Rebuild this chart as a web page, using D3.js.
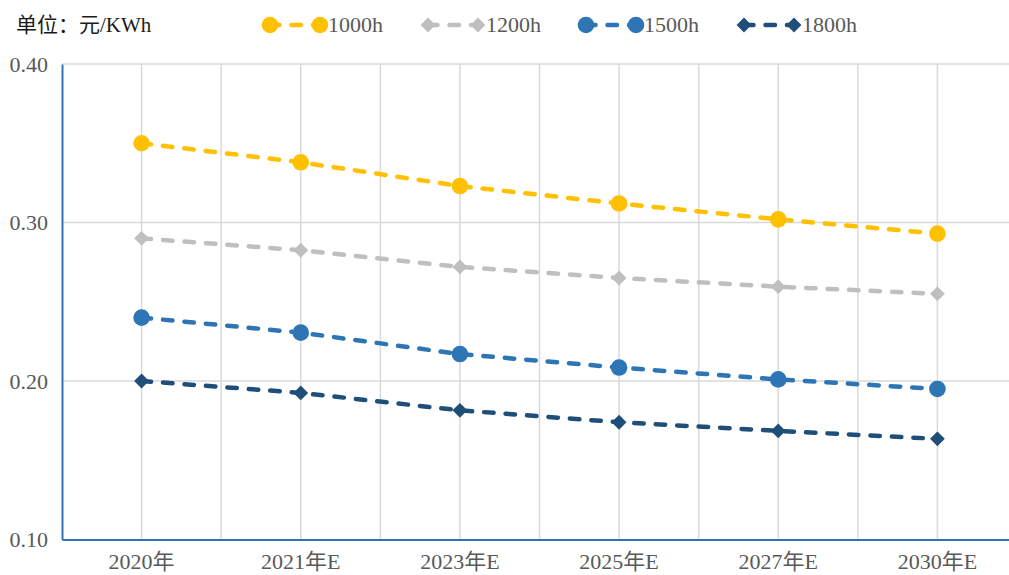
<!DOCTYPE html>
<html>
<head>
<meta charset="utf-8">
<script src="https://cdn.jsdelivr.net/npm/d3@7"></script>
<style>
  body { margin: 0; background: #fff; }
  text { font-family: "Liberation Serif", "Noto Sans CJK SC", serif; }
</style>
</head>
<body>
<script>
// Categories and series values (元/KWh)
const categories = ["2020年", "2021年E", "2023年E", "2025年E", "2027年E", "2030年E"];
const s1000 = [0.350, 0.338, 0.323, 0.312, 0.302, 0.293];
const s1200 = [0.290, 0.2825, 0.272, 0.265, 0.2595, 0.255];
const s1500 = [0.240, 0.2305, 0.217, 0.2085, 0.201, 0.195];
const s1800 = [0.200, 0.1925, 0.1815, 0.174, 0.1685, 0.1635];
const seriesNames = ["1000h", "1200h", "1500h", "1800h"];
const yTicks = [0.10, 0.20, 0.30, 0.40];

const series = [
    { name: seriesNames[0], values: s1000, color: "#FFC000", shape: "circle" },
    { name: seriesNames[1], values: s1200, color: "#BFBFBF", shape: "diamond" },
    { name: seriesNames[2], values: s1500, color: "#2E75B6", shape: "circle" },
    { name: seriesNames[3], values: s1800, color: "#1F4E79", shape: "diamond" }
];

const width = 1009, height = 575;
const margin = { left: 62, right: 1017, top: 64, bottom: 539.5 };

const svg = d3.select("body").append("svg")
    .attr("width", width)
    .attr("height", height);

// Scales
const x = d3.scaleBand().domain(categories).range([margin.left, margin.right]);
const y = d3.scaleLinear().domain([0.1, 0.4]).range([margin.bottom, margin.top]);

// Vertical gridlines at band edges and centres
const vLines = [];
categories.forEach(function(c, i) {
    if (i > 0) vLines.push(x(c));
    vLines.push(x(c) + x.bandwidth() / 2);
});
vLines.push(margin.right);
svg.append("g").selectAll("line")
    .data(vLines)
    .enter().append("line")
    .attr("x1", d => d).attr("x2", d => d)
    .attr("y1", margin.top).attr("y2", margin.bottom)
    .attr("stroke", "#D9D9D9")
    .attr("stroke-width", 1.5);

// Horizontal gridlines
svg.append("g").selectAll("line")
    .data(yTicks.slice(1))
    .enter().append("line")
    .attr("x1", margin.left).attr("x2", margin.right)
    .attr("y1", d => y(d)).attr("y2", d => y(d))
    .attr("stroke", "#D9D9D9")
    .attr("stroke-width", 1.5);

// Y axis
const yAxis = d3.axisLeft(y).tickValues(yTicks).tickFormat(d3.format(".2f")).tickSize(0).tickPadding(14);
const gy = svg.append("g")
    .attr("transform", "translate(" + margin.left + ",0)")
    .call(yAxis);
gy.select(".domain").attr("stroke", "#2E75B6").attr("stroke-width", 2);
gy.selectAll("text")
    .attr("font-size", 22)
    .attr("fill", "#595959")
    .attr("font-family", "Liberation Serif, serif");

// X axis
const xAxis = d3.axisBottom(x).tickSize(0).tickPadding(14);
const gx = svg.append("g")
    .attr("transform", "translate(0," + margin.bottom + ")")
    .call(xAxis);
gx.select(".domain").attr("stroke", "#2E75B6").attr("stroke-width", 2);
gx.selectAll("text")
    .attr("font-size", 22)
    .attr("fill", "#595959");

// Marker helper
const diamond = d3.symbol().type(d3.symbolSquare).size(110);
function drawMarker(g, s, cx, cy) {
    if (s.shape === "circle") {
        g.append("circle")
            .attr("cx", cx).attr("cy", cy).attr("r", 8.3)
            .attr("fill", s.color);
    } else {
        g.append("path")
            .attr("d", diamond())
            .attr("transform", "translate(" + cx + "," + cy + ") rotate(45)")
            .attr("fill", s.color);
    }
}

// Lines and markers
const line = d3.line()
    .x((d, i) => x(categories[i]) + x.bandwidth() / 2)
    .y(d => y(d));

series.forEach(function(s) {
    const g = svg.append("g");
    g.append("path")
        .datum(s.values)
        .attr("d", line)
        .attr("fill", "none")
        .attr("stroke", s.color)
        .attr("stroke-width", 4.5)
        .attr("stroke-linecap", "round")
        .attr("stroke-dasharray", "9.5,12");
    s.values.forEach(function(v, i) {
        drawMarker(g, s, x(categories[i]) + x.bandwidth() / 2, y(v));
    });
});

// Unit label
svg.append("text")
    .attr("x", 16).attr("y", 32)
    .attr("font-size", 21)
    .attr("fill", "#1a1a1a")
    .text("单位：元/KWh");

// Legend
const legend = svg.append("g");
series.forEach(function(s, i) {
    const lx = 270 + i * 158, ly = 25;
    const g = legend.append("g");
    g.append("line")
        .attr("x1", lx).attr("x2", lx + 50)
        .attr("y1", ly).attr("y2", ly)
        .attr("stroke", s.color)
        .attr("stroke-width", 4.5)
        .attr("stroke-linecap", "round")
        .attr("stroke-dasharray", "9.5,12");
    drawMarker(g, s, lx, ly);
    drawMarker(g, s, lx + 50, ly);
    g.append("text")
        .attr("x", lx + 58).attr("y", ly + 7)
        .attr("font-size", 22)
        .attr("fill", "#595959")
        .text(s.name);
});
</script>
</body>
</html>
